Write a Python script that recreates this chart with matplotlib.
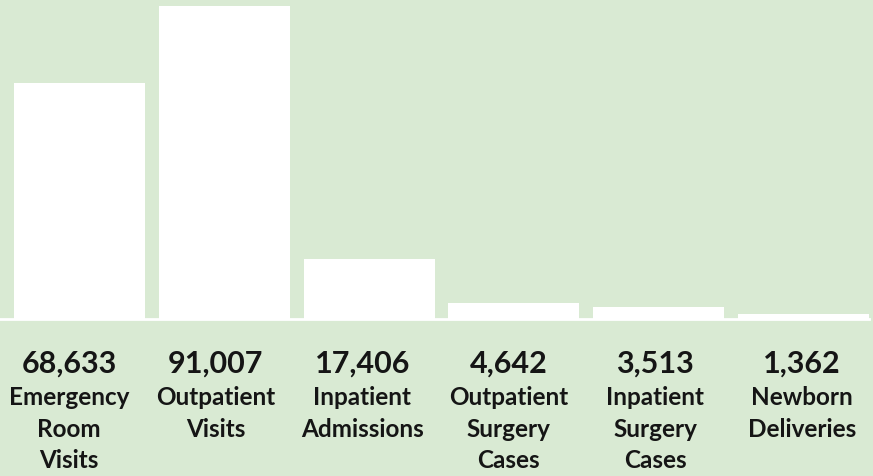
import numpy as np
import matplotlib.pyplot as plt

# data
numbers = [68633, 91007, 17406, 4642, 3513, 1362]
labels = [
    "Emergency\nRoom\nVisits",
    "Outpatient\nVisits",
    "Inpatient\nAdmissions",
    "Outpatient\nSurgery\nCases",
    "Inpatient\nSurgery\nCases",
    "Newborn\nDeliveries",
]

BG = "#d9ead3"
TEXT = "#151515"
W, H = 873, 477

plt.rcParams["font.family"] = ["Lato", "DejaVu Sans"]

fig = plt.figure(figsize=(W / 100, H / 100), dpi=100)
fig.patch.set_facecolor(BG)

# axes covers the top part of the figure, baseline at y=320 px from top
base_px = 320
ax = fig.add_axes([0, 1 - base_px / H, 1, base_px / H])
ax.set_facecolor(BG)

x = np.arange(len(numbers))
ax.bar(x, numbers, width=0.905, color="white", linewidth=0)
ax.set_xlim(-0.549, 5.48)
ax.set_ylim(0, max(numbers) * base_px / 313)
ax.axhline(0, xmin=0, xmax=869 / W, color="white", lw=2, clip_on=False)
ax.axis("off")

# labels below the baseline
for i, (n, lab) in enumerate(zip(numbers, labels)):
    cx = (69 + 146.6 * i) / W
    fig.text(cx, 1 - 373 / H, f"{n:,}", ha="center", va="baseline",
             fontsize=22, fontweight="bold", color=TEXT)
    for j, line in enumerate(lab.split("\n")):
        fig.text(cx, 1 - (405 + 31.7 * j) / H, line, ha="center",
                 va="baseline", fontsize=17.5, fontweight="bold", color=TEXT)

fig.savefig("out.png", dpi=100, facecolor=BG)
